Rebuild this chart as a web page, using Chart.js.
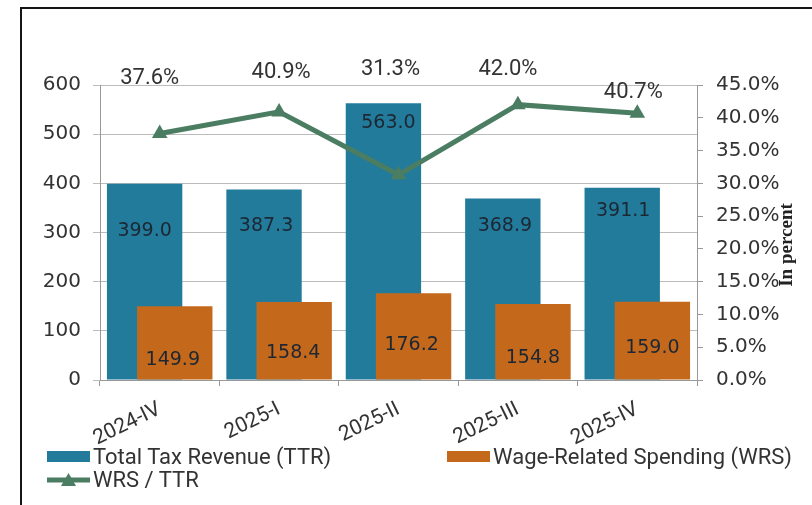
<!DOCTYPE html>
<html>
<head>
<meta charset="utf-8">
<script src="https://cdn.jsdelivr.net/npm/chart.js@4.4.1/dist/chart.umd.min.js"></script>
<style>
    html, body { margin: 0; padding: 0; background: #fff; overflow: hidden; }
    #wrap { position: relative; width: 812px; height: 505px; }
    #frame { position: absolute; left: 20px; top: 7px; width: 900px; height: 600px; border: 2px solid #151515; box-sizing: border-box; }
    #taxChart { position: absolute; left: 0; top: 0; }
    #legend { position: absolute; left: 47px; top: 445px; width: 765px; display: grid; grid-template-columns: 400px 365px; font-family: Roboto, sans-serif; font-size: 22px; color: #333; }
    .item { display: flex; align-items: center; height: 23px; white-space: nowrap; }
    .swatch { width: 43px; height: 11px; margin-right: 3px; }
    .item svg { margin-right: 3px; }
</style>
</head>
<body>
<div id="wrap">
    <div id="frame"></div>
    <canvas id="taxChart" width="812" height="505"></canvas>
    <div id="legend"></div>
</div>
<script>
// donnees
const quarters = ['2024-IV', '2025-I', '2025-II', '2025-III', '2025-IV'];
const ttrValues = [399.0, 387.3, 563.0, 368.9, 391.1];
const wrsValues = [149.9, 158.4, 176.2, 154.8, 159.0];
const ratioValues = [37.6, 40.9, 31.3, 42.0, 40.7];
const leftTicks = { min: 0, max: 600, step: 100 };
const rightTicks = { min: 0, max: 45, step: 5 };

const blue = '#227b9b';
const orange = '#c4691c';
const green = '#4a7d62';

// label nudges (px) as placed in the original
const ttrShift = [[0, 47], [2, 36], [5, 20], [2, 27], [1, 23]];
const wrsShift = [[-2, 54], [-1, 51], [-2, 52], [0, 54], [0, 46]];
const ratioShift = [[-10, -55], [2, -39], [-8, -105], [-10, -35], [-4, -21]];

// orange bars sit over the blue ones
const overlapPlugin = {
    id: 'overlap',
    beforeDatasetDraw(chart, args) {
        if (args.index === 1) return false;
    },
    afterDatasetDraw(chart, args) {
        if (args.index === 0) chart.getDatasetMeta(1).controller.draw();
    }
};

const labelPlugin = {
    id: 'labels',
    afterDatasetsDraw(chart) {
        const ctx = chart.ctx;
        ctx.save();
        ctx.textAlign = 'center';
        ctx.textBaseline = 'middle';
        ctx.font = '19px "DejaVu Sans"';
        ctx.fillStyle = '#1d2733';
        chart.getDatasetMeta(0).data.forEach((bar, i) => {
            ctx.fillText(ttrValues[i].toFixed(1), bar.x + ttrShift[i][0], bar.y + ttrShift[i][1]);
        });
        chart.getDatasetMeta(1).data.forEach((bar, i) => {
            ctx.fillText(wrsValues[i].toFixed(1), bar.x + wrsShift[i][0], bar.y + wrsShift[i][1]);
        });
        ctx.font = '22px Roboto';
        ctx.fillStyle = '#333';
        chart.getDatasetMeta(2).data.forEach((pt, i) => {
            ctx.fillText(ratioValues[i].toFixed(1) + '%', pt.x + ratioShift[i][0], pt.y + ratioShift[i][1]);
        });
        // axis title, reads bottom to top
        ctx.translate(787, 245);
        ctx.rotate(-Math.PI / 2);
        ctx.font = 'bold 19px "Liberation Serif"';
        ctx.fillStyle = '#222';
        ctx.fillText('In percent', 0, 0);
        ctx.restore();
    }
};

const ctx = document.getElementById('taxChart').getContext('2d');
const taxChart = new Chart(ctx, {
    type: 'bar',
    data: {
        labels: quarters,
        datasets: [{
            label: 'Total Tax Revenue (TTR)',
            data: ttrValues,
            backgroundColor: blue,
            order: 1,
            yAxisID: 'y'
        }, {
            label: 'Wage-Related Spending (WRS)',
            data: wrsValues,
            backgroundColor: orange,
            order: 2,
            yAxisID: 'y'
        }, {
            type: 'line',
            label: 'WRS / TTR',
            data: ratioValues,
            borderColor: green,
            backgroundColor: green,
            borderWidth: 5,
            pointStyle: 'triangle',
            pointRadius: 9,
            pointBorderWidth: 0,
            pointBackgroundColor: green,
            tension: 0,
            order: 0,
            yAxisID: 'y1'
        }]
    },
    options: {
        responsive: false,
        animation: false,
        categoryPercentage: 0.505,
        barPercentage: 2.5,
        layout: { padding: { top: 85, left: 0, right: 0, bottom: 0 } },
        plugins: {
            legend: { display: false },
            tooltip: { enabled: false }
        },
        scales: {
            x: {
                afterFit: s => { s.height = 125; },
                grid: { drawOnChartArea: false, tickLength: 6, color: '#999' },
                border: { color: '#999' },
                ticks: {
                    minRotation: 26,
                    maxRotation: 26,
                    autoSkip: false,
                    padding: 11,
                    color: '#333',
                    font: { family: 'Roboto', size: 21 }
                }
            },
            y: {
                position: 'left',
                min: leftTicks.min,
                max: leftTicks.max,
                afterFit: s => { s.width = 100; },
                grid: { color: '#bcbcbc', tickLength: 7 },
                border: { color: '#999' },
                ticks: {
                    stepSize: leftTicks.step,
                    padding: 12,
                    color: '#333',
                    font: { family: 'DejaVu Sans', size: 20 }
                }
            },
            y1: {
                position: 'right',
                min: rightTicks.min,
                max: rightTicks.max,
                afterFit: s => { s.width = 115; },
                grid: { drawOnChartArea: false, color: '#999', tickLength: 6 },
                border: { color: '#999' },
                ticks: {
                    stepSize: rightTicks.step,
                    padding: 13,
                    color: '#333',
                    font: { family: 'DejaVu Sans', size: 20 },
                    callback: v => v.toFixed(1) + '%'
                }
            }
        }
    },
    plugins: [overlapPlugin, labelPlugin]
});

// legend html
const legend = document.getElementById('legend');
taxChart.data.datasets.forEach(ds => {
    const item = document.createElement('div');
    item.className = 'item';
    if (ds.type === 'line') {
        item.innerHTML = '<svg width="43" height="18"><line x1="0" y1="9" x2="43" y2="9" stroke="' + ds.borderColor +
            '" stroke-width="5"/><polygon points="21.5,2 29,15 14,15" fill="' + ds.borderColor + '"/></svg>';
    } else {
        item.innerHTML = '<span class="swatch" style="background:' + ds.backgroundColor + '"></span>';
    }
    item.appendChild(document.createTextNode(ds.label));
    legend.appendChild(item);
});
</script>
</body>
</html>
